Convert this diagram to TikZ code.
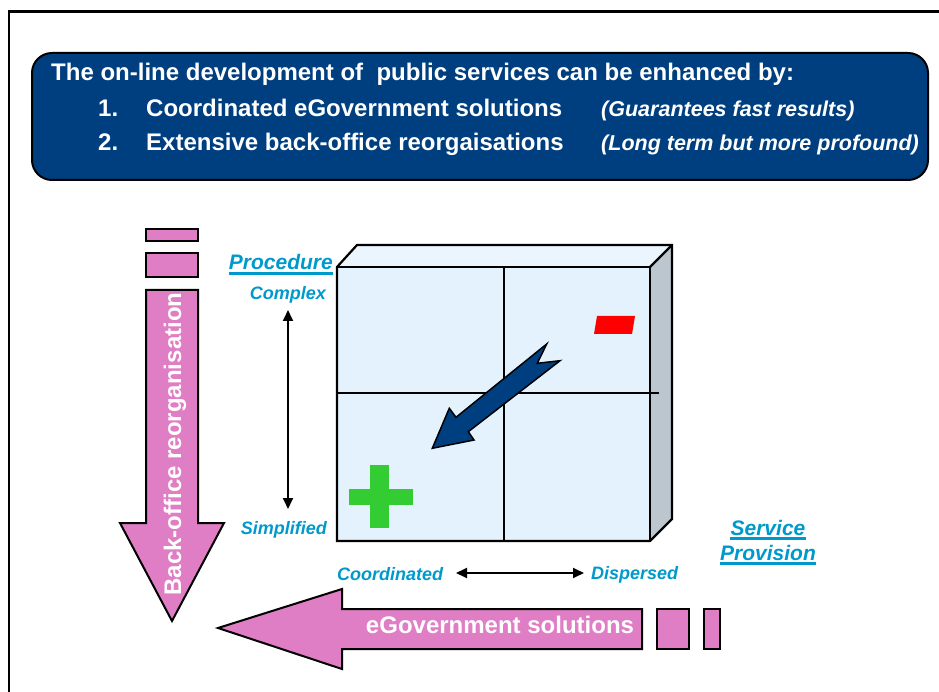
\documentclass[tikz,border=0pt]{standalone}
\usepackage{fontspec}
\setmainfont{Liberation Sans}
\usetikzlibrary{arrows.meta}

\definecolor{bannerblue}{RGB}{0,63,127}
\definecolor{pinkfill}{RGB}{224,126,197}
\definecolor{labelcyan}{RGB}{0,153,204}
\definecolor{panefront}{RGB}{228,242,253}
\definecolor{panetop}{RGB}{234,245,253}
\definecolor{paneside}{RGB}{188,198,206}
\definecolor{plusgreen}{RGB}{51,204,51}
\definecolor{minusred}{RGB}{255,0,0}

\begin{document}
\begin{tikzpicture}[x=1pt,y=-1pt,
  frameline/.style={draw=black,line width=2.5pt},
  cubeline/.style={draw=black,line width=2.2pt,line join=miter},
  pinkarrow/.style={fill=pinkfill,draw=black,line width=2pt,line join=miter},
  bannertext/.style={text=white,inner sep=0pt,anchor=base west,
    font=\fontsize{24}{28}\selectfont\bfseries},
  bannernote/.style={text=white,inner sep=0pt,anchor=base west,
    font=\fontsize{21.5}{25}\selectfont\bfseries\itshape},
  axislabel/.style={text=labelcyan,inner sep=0pt,
    font=\fontsize{18}{21}\selectfont\bfseries\itshape},
  axistitle/.style={text=labelcyan,inner sep=0pt,anchor=base,
    font=\fontsize{21}{25}\selectfont\bfseries\itshape},
  titlerule/.style={draw=labelcyan,line width=2.5pt},
  pinktext/.style={text=white,inner sep=0pt,anchor=base,
    font=\fontsize{24}{28}\selectfont\bfseries},
  dimarrow/.style={draw=black,line width=1.8pt,
    {Triangle[length=11pt,width=10pt]}-{Triangle[length=11pt,width=10pt]}}
]
\useasboundingbox (0,0) rectangle (939,692);

% page frame (open to the right and bottom)
\draw[frameline] (9,692) -- (9,11.5) -- (939,11.5);

% banner
\draw[fill=bannerblue,draw=black,line width=2pt,rounded corners=20pt]
  (32,53) rectangle (928,180);
\node[bannertext] (head) at (51,81)
  {The on-line development of \ public services can be enhanced by:};
\node[bannertext] (n1) at (98,117) {1.};
\node[bannertext] (item1) at (146,117) {Coordinated eGovernment solutions};
\node[bannernote] (note1) at (601,117) {(Guarantees fast results)};
\node[bannertext] (n2) at (98,151) {2.};
\node[bannertext] (item2) at (146,151) {Extensive back-office reorgaisations};
\node[bannernote] (note2) at (601,151) {(Long term but more profound)};

% cube: top face, side face, front face
\fill[panetop] (337,267) -- (357,245) -- (672,245) -- (650,267) -- cycle;
\fill[paneside] (650,267) -- (672,245) -- (672,519) -- (650,541) -- cycle;
\fill[panefront] (337,267) rectangle (650,541);
\draw[cubeline] (337,267) -- (357,245) -- (672,245) -- (672,519) -- (650,541)
  -- (337,541) -- cycle;
\draw[cubeline] (337,267) -- (650,267) -- (650,541);
\draw[cubeline] (650,267) -- (672,245);
% quadrant dividers
\draw[cubeline] (504,267) -- (504,541);
\draw[cubeline] (337,393) -- (659,393);

% minus and plus markers
\fill[minusred] (597,316) -- (635,316) -- (632,334) -- (594,334) -- cycle;
\fill[plusgreen] (370,465) rectangle (389,528);
\fill[plusgreen] (349,489) rectangle (413,505);

% block arrow pointing to the simplified/coordinated quadrant
\draw[fill=bannerblue,draw=black,line width=1.5pt,line join=miter]
  (546.7,344) -- (537.3,363.3) -- (560,360.7) -- (468.3,431.7) -- (474,440)
  -- (432.3,448.3) -- (449.3,408.3) -- (456,417.3) -- cycle;

% procedure axis
\node[axislabel,anchor=base east] (proc) at (333,270)
  {\fontsize{21}{25}\selectfont Procedure};
\draw[titlerule] ([yshift=-3.5pt]proc.base west) -- ([yshift=-3.5pt]proc.base east);
\node[axislabel,anchor=base east] (complex) at (326,300) {Complex};
\node[axislabel,anchor=base east] (simple) at (327,534) {Simplified};
\coordinate (vtop) at (288,310);
\coordinate (vbot) at (288,509);
\draw[dimarrow] (vtop) -- (vbot);

% service provision axis
\node[axislabel,anchor=base west] (coord) at (337,580) {Coordinated};
\node[axislabel,anchor=base west] (disp) at (591,579) {Dispersed};
\coordinate (hleft) at (456,573);
\coordinate (hright) at (584,573);
\draw[dimarrow] (hleft) -- (hright);
\node[axistitle] (serv) at (768,535) {Service};
\draw[titlerule] ([yshift=-3.5pt]serv.base west) -- ([yshift=-3.5pt]serv.base east);
\node[axistitle] (prov) at (768,560) {Provision};
\draw[titlerule] ([yshift=-3.5pt]prov.base west) -- ([yshift=-3.5pt]prov.base east);

% back-office reorganisation arrow
\draw[pinkarrow] (146,229) rectangle (198,241);
\draw[pinkarrow] (146,253.5) rectangle (198,277.5);
\draw[pinkarrow] (146,290) -- (198,290) -- (198,523) -- (224,523) -- (172,621)
  -- (120,523) -- (146,523) -- cycle;
\node[pinktext,rotate=90] (backoffice) at (181,444) {Back-office reorganisation};

% eGovernment solutions arrow
\draw[pinkarrow] (704,609) rectangle (720,649);
\draw[pinkarrow] (657,609) rectangle (689,649);
\draw[pinkarrow] (642,609) -- (642,649) -- (342,649) -- (342,669) -- (218,628)
  -- (342,589) -- (342,609) -- cycle;
\node[pinktext] (egov) at (500,633) {eGovernment solutions};
\end{tikzpicture}
\end{document}
